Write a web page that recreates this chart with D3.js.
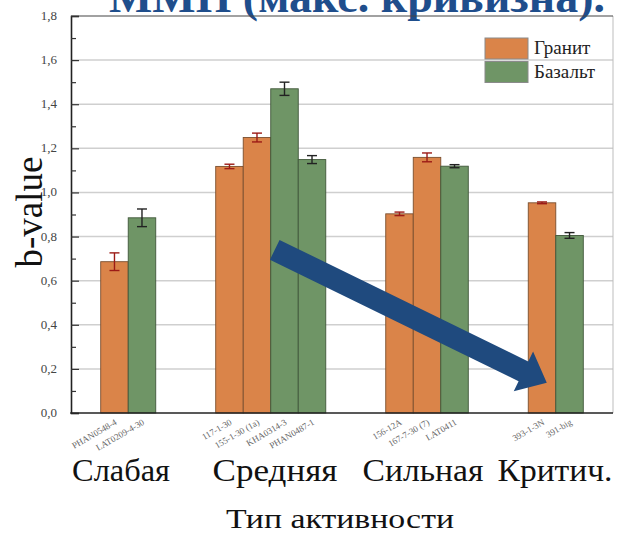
<!DOCTYPE html>
<html>
<head>
<meta charset="utf-8">
<script src="https://cdn.jsdelivr.net/npm/d3@7"></script>
<style>
  html, body { margin: 0; padding: 0; background: #fff; }
  svg { display: block; }
</style>
</head>
<body>
<svg id="chart" width="621" height="537"></svg>
<script>
// ---- data ----
const groupNames = ["Слабая", "Средняя", "Сильная", "Критич."];
const sampleNames = ["PHAN0548-4", "LAT0209-4-30", "117-1-30", "155-1-30 (1a)", "KHA0314-3",
  "PHAN0487-1", "156-12A", "167-7-30 (7)", "LAT0411", "393-1-3N", "391-big"];
const sampleGroup = [0, 0, 1, 1, 1, 1, 2, 2, 2, 3, 3];
const rockNames = ["Гранит", "Базальт"];
const sampleRock = [0, 1, 0, 0, 1, 1, 0, 0, 1, 0, 1];
const bValues = [0.686, 0.885, 1.118, 1.249, 1.470, 1.149, 0.903, 1.159, 1.119, 0.953, 0.805];
const bErrors = [0.040, 0.040, 0.010, 0.020, 0.030, 0.018, 0.008, 0.020, 0.007, 0.004, 0.013];
const yTicks = [0, 0.2, 0.4, 0.6, 0.8, 1.0, 1.2, 1.4, 1.6, 1.8];
const titleText = "ММП (макс. кривизна).";
const xAxisTitle = "Тип активности";
const yAxisTitle = "b-value";

// ---- layout ----
const svg = d3.select("#chart");
const plot = { left: 71, right: 613, top: 16, bottom: 413 };
const outerPad = 1.08, groupGap = 2.18;          // in bar widths
const fillColors = ["#da8449", "#6f9566"];
const edgeColors = ["#7a4f2e", "#40573a"];
const errColors = ["#9c1b16", "#222222"];
const serif = "'Liberation Serif', 'Times New Roman', serif";

const nBars = sampleNames.length;
const slot = i => outerPad + i + groupGap * sampleGroup[i];
const x = d3.scaleLinear()
  .domain([0, 2 * outerPad + nBars + groupGap * (groupNames.length - 1)])
  .range([plot.left, plot.right]);
const y = d3.scaleLinear().domain([0, 1.8]).range([plot.bottom, plot.top]);
const barW = x(1) - x(0);

// title (its upper part runs past the top of the page)
svg.append("text")
  .attr("x", 357).attr("y", 12)
  .attr("text-anchor", "middle")
  .attr("font-family", serif).attr("font-weight", "bold")
  .attr("font-size", 44).attr("fill", "#1f4e8c")
  .attr("textLength", 496).attr("lengthAdjust", "spacingAndGlyphs")
  .text(titleText);

// grid lines
svg.append("g").selectAll("line")
  .data(yTicks.filter(t => t > 0 && t < 1.8))
  .join("line")
  .attr("x1", plot.left).attr("x2", plot.right)
  .attr("y1", d => y(d)).attr("y2", d => y(d))
  .attr("stroke", "#cfcfcf").attr("stroke-width", 1.5);

// frame: right and top borders
svg.append("line").attr("x1", plot.right).attr("x2", plot.right)
  .attr("y1", plot.top).attr("y2", plot.bottom)
  .attr("stroke", "#bdbdbd").attr("stroke-width", 1);
svg.append("line").attr("x1", plot.left).attr("x2", plot.right)
  .attr("y1", plot.top).attr("y2", plot.top)
  .attr("stroke", "#444").attr("stroke-width", 1.2);

// bars
const idx = d3.range(nBars);
svg.append("g").selectAll("rect")
  .data(idx)
  .join("rect")
  .attr("x", i => x(slot(i)))
  .attr("width", barW)
  .attr("y", i => y(bValues[i]))
  .attr("height", i => y(0) - y(bValues[i]))
  .attr("fill", i => fillColors[sampleRock[i]])
  .attr("stroke", i => edgeColors[sampleRock[i]])
  .attr("stroke-width", 0.9);

// error bars
const eb = svg.append("g").selectAll("g").data(idx).join("g")
  .attr("stroke", i => errColors[sampleRock[i]])
  .attr("stroke-width", 1.4);
const cx = i => x(slot(i) + 0.5);
eb.append("line")
  .attr("x1", cx).attr("x2", cx)
  .attr("y1", i => y(bValues[i] - bErrors[i])).attr("y2", i => y(bValues[i] + bErrors[i]));
[-1, 1].forEach(s => {
  eb.append("line")
    .attr("x1", i => cx(i) - 5).attr("x2", i => cx(i) + 5)
    .attr("y1", i => y(bValues[i] + s * bErrors[i])).attr("y2", i => y(bValues[i] + s * bErrors[i]));
});

// y axis with inward ticks
const yAxis = d3.axisRight(y).tickValues(d3.range(0, 1.81, 0.1)).tickFormat("").tickSizeOuter(0)
  .tickSize(8);
const yg = svg.append("g").attr("transform", `translate(${plot.left},0)`).call(yAxis);
yg.select(".domain").attr("stroke", "#222").attr("stroke-width", 1.6);
yg.selectAll(".tick line")
  .attr("stroke", "#333").attr("stroke-width", 1.2)
  .attr("x2", (d, i) => (i % 2 === 0 ? 8 : 5));
svg.append("g").selectAll("text")
  .data(yTicks)
  .join("text")
  .attr("x", 57).attr("y", d => y(d) + 4)
  .attr("text-anchor", "end")
  .attr("font-family", serif).attr("font-size", 13).attr("fill", "#444")
  .text(d => d3.format(".1f")(d).replace(".", ","));

// bottom axis line
svg.append("line").attr("x1", plot.left - 0.8).attr("x2", plot.right)
  .attr("y1", plot.bottom).attr("y2", plot.bottom)
  .attr("stroke", "#222").attr("stroke-width", 1.6);

// sample labels (rotated)
svg.append("g").selectAll("text")
  .data(idx)
  .join("text")
  .attr("transform", i => `translate(${cx(i) + 3},${plot.bottom + 11}) rotate(-30)`)
  .attr("text-anchor", "end")
  .attr("font-family", serif).attr("font-size", 9).attr("fill", "#666")
  .text(i => sampleNames[i]);

// group labels
const groupLabelX = [121, 275, 423, 555];
const groupLabelW = [98, 125, 121, 115];
svg.append("g").selectAll("text")
  .data(groupNames)
  .join("text")
  .attr("x", (d, i) => groupLabelX[i])
  .attr("y", 481)
  .attr("text-anchor", "middle")
  .attr("font-family", serif).attr("font-size", 32).attr("fill", "#111")
  .attr("textLength", (d, i) => groupLabelW[i]).attr("lengthAdjust", "spacingAndGlyphs")
  .text(d => d);

// axis titles
svg.append("text")
  .attr("x", 340).attr("y", 528)
  .attr("text-anchor", "middle")
  .attr("font-family", serif).attr("font-size", 28).attr("fill", "#111")
  .attr("textLength", 228).attr("lengthAdjust", "spacingAndGlyphs")
  .text(xAxisTitle);
svg.append("text")
  .attr("transform", `translate(42,212) rotate(-90)`)
  .attr("text-anchor", "middle")
  .attr("font-family", serif).attr("font-size", 37).attr("fill", "#111")
  .text(yAxisTitle);

// legend
const legend = svg.append("g").selectAll("g").data(rockNames).join("g")
  .attr("transform", (d, i) => `translate(485,${38 + i * 23.5})`);
legend.append("rect")
  .attr("width", 43).attr("height", 21)
  .attr("fill", (d, i) => fillColors[i])
  .attr("stroke", "#8a8a8a").attr("stroke-width", 1);
legend.append("text")
  .attr("x", 49).attr("y", 16)
  .attr("font-family", serif).attr("font-size", 19).attr("fill", "#222")
  .text(d => d);

// trend arrow: from the middle group down to the critical group
const tail = [x(slot(4)) + 4, y(0.74)];
const tip = [x(slot(10)) - 9, y(0.137)];
const ang = Math.atan2(tip[1] - tail[1], tip[0] - tail[0]);
const len = Math.hypot(tip[0] - tail[0], tip[1] - tail[1]);
const shaftHalf = 11, headHalf = 22, headLen = 26;
const arrowPts = [
  [0, -shaftHalf], [len - headLen, -shaftHalf], [len - headLen, -headHalf], [len, 0],
  [len - headLen, headHalf], [len - headLen, shaftHalf], [0, shaftHalf]
];
svg.append("path")
  .attr("transform", `translate(${tail[0]},${tail[1]}) rotate(${ang * 180 / Math.PI})`)
  .attr("d", d3.line()(arrowPts) + "Z")
  .attr("fill", "#1f4a7e");
</script>
</body>
</html>
